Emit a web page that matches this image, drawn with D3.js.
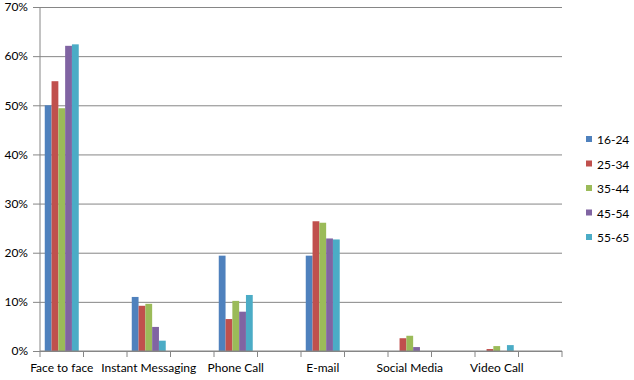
<!DOCTYPE html>
<html>
<head>
<meta charset="utf-8">
<script src="https://cdn.jsdelivr.net/npm/d3@7"></script>
<style>
  body { margin: 0; background: #fff; }
  text { font-family: Lato, "Open Sans", sans-serif; fill: #000; }
</style>
</head>
<body>
<div id="chart"></div>
<script>
// Communication method by age group (share of respondents)
const categories = ['Face to face', 'Instant Messaging', 'Phone Call', 'E-mail', 'Social Media', 'Video Call'];
const series = ['16-24', '25-34', '35-44', '45-54', '55-65'];
const colors = ['#4F81BD', '#C0504D', '#9BBB59', '#8064A2', '#4BACC6'];

const v1624 = [0.500, 0.110, 0.194, 0.194, 0.000, 0.000];
const v2534 = [0.549, 0.092, 0.065, 0.264, 0.026, 0.004];
const v3544 = [0.494, 0.096, 0.102, 0.261, 0.031, 0.010];
const v4554 = [0.621, 0.049, 0.080, 0.229, 0.008, 0.000];
const v5565 = [0.624, 0.021, 0.114, 0.227, 0.000, 0.012];
const values = [v1624, v2534, v3544, v4554, v5565];

const yTicks = [0, 0.1, 0.2, 0.3, 0.4, 0.5, 0.6, 0.7];

const W = 634, H = 380;
const m = { top: 7, right: 72, bottom: 29, left: 40 };
const w = W - m.left - m.right;
const h = H - m.top - m.bottom;

const svg = d3.select('#chart').append('svg')
  .attr('width', W).attr('height', H);
const g = svg.append('g').attr('transform', `translate(${m.left},${m.top})`);

// each category is followed by an empty slot in the source sheet
const slots = d3.range(categories.length * 2);
const x = d3.scaleBand().domain(slots).range([0, w]).padding(0);
const xSub = d3.scaleBand().domain(series).range([0, x.bandwidth()]).paddingOuter(0.7);
const y = d3.scaleLinear().domain([0, 0.7]).range([h, 0]);

// Gridlines + y axis
const yAxis = g.append('g')
  .call(d3.axisLeft(y).tickValues(yTicks).tickFormat(d3.format('.0%')).tickSize(-w).tickPadding(12));
yAxis.select('.domain').remove();
yAxis.selectAll('line').attr('stroke', '#868686').attr('x1', -7);
yAxis.selectAll('text').attr('font-size', 12).style('fill', '#000');

g.append('line').attr('x1', 0).attr('x2', 0).attr('y1', 0).attr('y2', h)
  .attr('stroke', '#868686');

// Bars
const rows = categories.map((c, i) => ({ slot: i * 2, vals: series.map((s, k) => ({ s, k, v: values[k][i] })) }));
const groups = g.selectAll('.grp').data(rows).join('g')
  .attr('transform', d => `translate(${x(d.slot)},0)`);
groups.selectAll('rect').data(d => d.vals).join('rect')
  .attr('x', d => xSub(d.s))
  .attr('width', xSub.bandwidth())
  .attr('y', d => y(d.v))
  .attr('height', d => h - y(d.v))
  .attr('fill', d => colors[d.k]);

// X axis
const xAxis = g.append('g').attr('transform', `translate(0,${h})`);
xAxis.append('line').attr('x1', 0).attr('x2', w).attr('stroke', '#868686');
xAxis.selectAll('.tk').data(d3.range(slots.length + 1)).join('line')
  .attr('x1', d => d * x.step()).attr('x2', d => d * x.step())
  .attr('y1', 0).attr('y2', 6).attr('stroke', '#868686');
xAxis.selectAll('.lbl').data(categories).join('text')
  .attr('x', (d, i) => x(i * 2) + x.bandwidth() / 2)
  .attr('y', 21)
  .attr('text-anchor', 'middle')
  .attr('font-size', 12)
  .text(d => d);

// Legend
const legend = svg.append('g').attr('transform', 'translate(586,140)');
const li = legend.selectAll('g').data(series).join('g')
  .attr('transform', (d, i) => `translate(0,${i * 24.5})`);
li.append('rect').attr('x', 0).attr('y', -4).attr('width', 6).attr('height', 6)
  .attr('fill', (d, i) => colors[i]);
li.append('text').attr('x', 11).attr('y', 0).attr('dy', '0.35em')
  .attr('font-size', 12).text(d => d);
</script>
</body>
</html>
